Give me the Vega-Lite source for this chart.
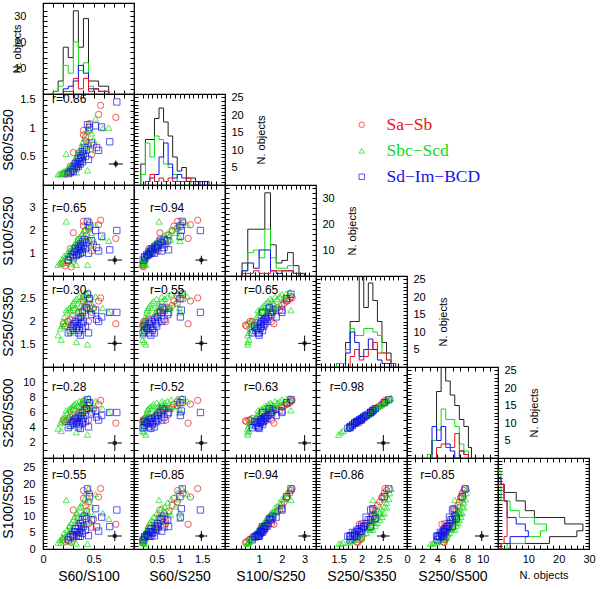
{
"$schema":"https://vega.github.io/schema/vega-lite/v6.json",
"padding":{"left":0,"top":1,"right":2,"bottom":2},
"columns":6,"spacing":0,"bounds":"flush",
"datasets":{
"gal":[
{"t":"Sa-Sb","a":0.2,"p":0.2,"b":0.55,"c":1.95,"d":5.0,"q":2.8},
{"t":"Sa-Sb","a":0.22,"p":0.19,"b":0.45,"c":1.9,"d":4.8,"q":2.2},
{"t":"Sa-Sb","a":0.25,"p":0.24,"b":0.7,"c":2.0,"d":5.2,"q":3.6},
{"t":"Sa-Sb","a":0.28,"p":0.21,"b":0.4,"c":1.92,"d":4.9,"q":2.0},
{"t":"Sa-Sb","a":0.3,"p":0.57,"b":1.9,"c":2.25,"d":6.3,"q":12.0},
{"t":"Sa-Sb","a":0.35,"p":0.56,"b":1.6,"c":2.2,"d":6.0,"q":9.6},
{"t":"Sa-Sb","a":0.4,"p":0.88,"b":2.2,"c":2.45,"d":7.1,"q":15.6},
{"t":"Sa-Sb","a":0.42,"p":0.84,"b":2.0,"c":2.35,"d":6.7,"q":13.4},
{"t":"Sa-Sb","a":0.45,"p":0.95,"b":2.1,"c":2.4,"d":6.9,"q":14.5},
{"t":"Sa-Sb","a":0.43,"p":0.77,"b":1.8,"c":2.3,"d":6.5,"q":11.7},
{"t":"Sa-Sb","a":0.38,"p":0.49,"b":1.3,"c":2.1,"d":5.6,"q":7.3},
{"t":"Sa-Sb","a":0.46,"p":1.08,"b":2.35,"c":2.5,"d":7.3,"q":17.2},
{"t":"Sa-Sb","a":0.57,"p":1.4,"b":2.45,"c":2.52,"d":7.6,"q":18.6},
{"t":"Sa-Sb","a":0.72,"p":1.19,"b":1.65,"c":1.95,"d":4.6,"q":7.6},
{"t":"Sa-Sb","a":0.48,"p":0.53,"b":1.1,"c":2.2,"d":6.0,"q":6.6},
{"t":"Sa-Sb","a":0.33,"p":0.31,"b":0.9,"c":1.98,"d":5.1,"q":4.6},
{"t":"Sa-Sb","a":0.5,"p":0.7,"b":1.4,"c":2.3,"d":6.5,"q":9.1},
{"t":"Sa-Sb","a":0.27,"p":0.33,"b":1.2,"c":2.05,"d":5.4,"q":6.5},
{"t":"Sa-Sb","a":0.55,"p":1.24,"b":2.25,"c":2.45,"d":7.1,"q":16.0},
{"t":"Sa-Sb","a":0.45,"p":0.7,"b":1.55,"c":2.0,"d":5.0,"q":7.8},
{"t":"Sa-Sb","a":0.24,"p":0.22,"b":0.6,"c":2.0,"d":5.0,"q":3.0},
{"t":"Sa-Sb","a":0.4,"p":0.96,"b":2.4,"c":2.55,"d":7.5,"q":18.0},
{"t":"Sbc-Scd","a":0.15,"p":0.19,"b":0.5,"c":1.7,"d":3.9,"q":2.0},
{"t":"Sbc-Scd","a":0.17,"p":0.2,"b":0.6,"c":1.85,"d":4.6,"q":2.8},
{"t":"Sbc-Scd","a":0.18,"p":0.19,"b":0.55,"c":1.6,"d":3.6,"q":2.0},
{"t":"Sbc-Scd","a":0.19,"p":0.22,"b":0.75,"c":1.9,"d":4.8,"q":3.6},
{"t":"Sbc-Scd","a":0.2,"p":0.21,"b":0.65,"c":2.0,"d":5.2,"q":3.4},
{"t":"Sbc-Scd","a":0.21,"p":0.25,"b":0.9,"c":2.1,"d":5.6,"q":5.0},
{"t":"Sbc-Scd","a":0.22,"p":0.23,"b":0.8,"c":1.95,"d":5.0,"q":4.0},
{"t":"Sbc-Scd","a":0.23,"p":0.55,"b":2.4,"c":2.25,"d":6.3,"q":15.1},
{"t":"Sbc-Scd","a":0.24,"p":0.28,"b":1.0,"c":2.2,"d":5.9,"q":5.9},
{"t":"Sbc-Scd","a":0.25,"p":0.26,"b":0.85,"c":2.05,"d":5.4,"q":4.6},
{"t":"Sbc-Scd","a":0.26,"p":0.31,"b":1.1,"c":2.3,"d":6.5,"q":7.2},
{"t":"Sbc-Scd","a":0.27,"p":0.29,"b":0.95,"c":2.25,"d":6.3,"q":6.0},
{"t":"Sbc-Scd","a":0.28,"p":0.35,"b":1.2,"c":2.35,"d":6.7,"q":8.0},
{"t":"Sbc-Scd","a":0.29,"p":0.32,"b":1.05,"c":2.15,"d":5.8,"q":6.1},
{"t":"Sbc-Scd","a":0.3,"p":0.39,"b":1.3,"c":2.4,"d":6.9,"q":9.0},
{"t":"Sbc-Scd","a":0.3,"p":0.25,"b":0.7,"c":1.8,"d":4.4,"q":3.1},
{"t":"Sbc-Scd","a":0.31,"p":0.43,"b":1.4,"c":2.45,"d":7.1,"q":9.9},
{"t":"Sbc-Scd","a":0.32,"p":0.4,"b":1.25,"c":2.3,"d":6.5,"q":8.1},
{"t":"Sbc-Scd","a":0.33,"p":0.5,"b":1.5,"c":2.5,"d":7.3,"q":11.0},
{"t":"Sbc-Scd","a":0.33,"p":0.22,"b":0.5,"c":1.55,"d":3.4,"q":1.7},
{"t":"Sbc-Scd","a":0.34,"p":0.54,"b":1.6,"c":2.4,"d":6.9,"q":11.0},
{"t":"Sbc-Scd","a":0.35,"p":0.47,"b":1.35,"c":2.2,"d":6.0,"q":8.1},
{"t":"Sbc-Scd","a":0.36,"p":0.61,"b":1.7,"c":2.55,"d":7.5,"q":12.8},
{"t":"Sbc-Scd","a":0.37,"p":0.54,"b":1.45,"c":2.35,"d":6.7,"q":9.7},
{"t":"Sbc-Scd","a":0.38,"p":0.68,"b":1.8,"c":2.5,"d":7.3,"q":13.1},
{"t":"Sbc-Scd","a":0.38,"p":0.44,"b":1.15,"c":2.1,"d":5.6,"q":6.4},
{"t":"Sbc-Scd","a":0.39,"p":0.74,"b":1.9,"c":2.55,"d":7.5,"q":14.3},
{"t":"Sbc-Scd","a":0.4,"p":0.62,"b":1.55,"c":2.45,"d":7.1,"q":11.0},
{"t":"Sbc-Scd","a":0.41,"p":0.82,"b":2.0,"c":2.6,"d":7.7,"q":15.4},
{"t":"Sbc-Scd","a":0.42,"p":0.69,"b":1.65,"c":2.4,"d":6.9,"q":11.4},
{"t":"Sbc-Scd","a":0.43,"p":0.95,"b":2.2,"c":2.62,"d":7.8,"q":17.2},
{"t":"Sbc-Scd","a":0.44,"p":0.77,"b":1.75,"c":2.3,"d":6.5,"q":11.4},
{"t":"Sbc-Scd","a":0.45,"p":1.06,"b":2.35,"c":2.65,"d":7.9,"q":18.6},
{"t":"Sbc-Scd","a":0.46,"p":0.97,"b":2.1,"c":2.5,"d":7.3,"q":15.3},
{"t":"Sbc-Scd","a":0.47,"p":0.63,"b":1.35,"c":2.25,"d":6.3,"q":8.5},
{"t":"Sbc-Scd","a":0.48,"p":0.91,"b":1.9,"c":2.4,"d":6.9,"q":13.1},
{"t":"Sbc-Scd","a":0.5,"p":0.8,"b":1.6,"c":2.3,"d":6.5,"q":10.4},
{"t":"Sbc-Scd","a":0.52,"p":1.17,"b":2.25,"c":2.55,"d":7.5,"q":16.9},
{"t":"Sbc-Scd","a":0.59,"p":1.0,"b":1.7,"c":2.3,"d":6.5,"q":11.1},
{"t":"Sbc-Scd","a":0.65,"p":1.01,"b":1.55,"c":2.2,"d":6.0,"q":9.3},
{"t":"Sbc-Scd","a":0.27,"p":0.21,"b":0.55,"c":1.75,"d":4.2,"q":2.3},
{"t":"Sbc-Scd","a":0.35,"p":0.35,"b":1.0,"c":2.0,"d":5.2,"q":5.2},
{"t":"Sbc-Scd","a":0.4,"p":0.5,"b":1.25,"c":2.15,"d":5.8,"q":7.3},
{"t":"Sbc-Scd","a":0.44,"p":0.26,"b":0.5,"c":1.5,"d":3.1,"q":1.6},
{"t":"Sd-Im-BCD","a":0.25,"p":0.2,"b":0.7,"c":1.75,"d":4.0,"q":2.8},
{"t":"Sd-Im-BCD","a":0.27,"p":0.23,"b":0.85,"c":1.8,"d":4.3,"q":3.7},
{"t":"Sd-Im-BCD","a":0.29,"p":0.28,"b":0.95,"c":1.85,"d":4.6,"q":4.4},
{"t":"Sd-Im-BCD","a":0.3,"p":0.24,"b":0.8,"c":1.9,"d":4.8,"q":3.8},
{"t":"Sd-Im-BCD","a":0.31,"p":0.33,"b":1.05,"c":1.95,"d":5.0,"q":5.3},
{"t":"Sd-Im-BCD","a":0.32,"p":0.38,"b":1.2,"c":2.0,"d":5.2,"q":6.2},
{"t":"Sd-Im-BCD","a":0.33,"p":0.3,"b":0.9,"c":1.85,"d":4.6,"q":4.1},
{"t":"Sd-Im-BCD","a":0.34,"p":0.37,"b":1.1,"c":1.9,"d":4.8,"q":5.3},
{"t":"Sd-Im-BCD","a":0.35,"p":0.46,"b":1.3,"c":2.05,"d":5.4,"q":7.0},
{"t":"Sd-Im-BCD","a":0.35,"p":0.33,"b":0.95,"c":1.75,"d":4.1,"q":3.9},
{"t":"Sd-Im-BCD","a":0.36,"p":0.41,"b":1.15,"c":1.8,"d":4.4,"q":5.1},
{"t":"Sd-Im-BCD","a":0.37,"p":0.52,"b":1.4,"c":2.1,"d":5.6,"q":7.8},
{"t":"Sd-Im-BCD","a":0.37,"p":0.37,"b":1.0,"c":1.7,"d":3.9,"q":3.9},
{"t":"Sd-Im-BCD","a":0.38,"p":0.48,"b":1.25,"c":1.95,"d":5.0,"q":6.3},
{"t":"Sd-Im-BCD","a":0.39,"p":0.59,"b":1.5,"c":2.2,"d":6.0,"q":9.0},
{"t":"Sd-Im-BCD","a":0.39,"p":0.41,"b":1.05,"c":1.85,"d":4.6,"q":4.8},
{"t":"Sd-Im-BCD","a":0.4,"p":0.54,"b":1.35,"c":2.0,"d":5.2,"q":7.0},
{"t":"Sd-Im-BCD","a":0.41,"p":0.66,"b":1.6,"c":2.25,"d":6.3,"q":10.1},
{"t":"Sd-Im-BCD","a":0.42,"p":0.5,"b":1.2,"c":1.9,"d":4.8,"q":5.8},
{"t":"Sd-Im-BCD","a":0.43,"p":0.62,"b":1.45,"c":2.3,"d":6.5,"q":9.4},
{"t":"Sd-Im-BCD","a":0.44,"p":1.06,"b":2.4,"c":2.6,"d":7.7,"q":18.5},
{"t":"Sd-Im-BCD","a":0.45,"p":0.45,"b":1.0,"c":1.75,"d":4.1,"q":4.1},
{"t":"Sd-Im-BCD","a":0.46,"p":1.01,"b":2.2,"c":2.5,"d":7.3,"q":16.1},
{"t":"Sd-Im-BCD","a":0.48,"p":0.74,"b":1.55,"c":2.15,"d":5.8,"q":9.0},
{"t":"Sd-Im-BCD","a":0.52,"p":1.04,"b":2.0,"c":2.25,"d":6.2,"q":12.4},
{"t":"Sd-Im-BCD","a":0.55,"p":0.61,"b":1.1,"c":2.0,"d":5.0,"q":5.5},
{"t":"Sd-Im-BCD","a":0.58,"p":1.02,"b":1.75,"c":2.1,"d":5.6,"q":9.8},
{"t":"Sd-Im-BCD","a":0.66,"p":0.76,"b":1.15,"c":2.2,"d":6.0,"q":6.9},
{"t":"Sd-Im-BCD","a":0.53,"p":0.66,"b":1.25,"c":2.05,"d":5.4,"q":6.8},
{"t":"Sd-Im-BCD","a":0.73,"p":1.46,"b":2.0,"c":2.2,"d":6.0,"q":12.0}
],
"h1":[
{"g":"Total","x":0.1,"n":0},{"g":"Total","x":0.1,"n":1},{"g":"Total","x":0.15,"n":5},{"g":"Total","x":0.2,"n":18},{"g":"Total","x":0.25,"n":14},{"g":"Total","x":0.3,"n":32},{"g":"Total","x":0.35,"n":18},{"g":"Total","x":0.4,"n":29},{"g":"Total","x":0.45,"n":5},{"g":"Total","x":0.5,"n":5},{"g":"Total","x":0.55,"n":3},{"g":"Total","x":0.6,"n":3},{"g":"Total","x":0.65,"n":0},
{"g":"Sbc-Scd","x":0.1,"n":0},{"g":"Sbc-Scd","x":0.1,"n":1},{"g":"Sbc-Scd","x":0.15,"n":3},{"g":"Sbc-Scd","x":0.2,"n":11},{"g":"Sbc-Scd","x":0.25,"n":8},{"g":"Sbc-Scd","x":0.3,"n":20},{"g":"Sbc-Scd","x":0.35,"n":9},{"g":"Sbc-Scd","x":0.4,"n":12},{"g":"Sbc-Scd","x":0.45,"n":3},{"g":"Sbc-Scd","x":0.5,"n":2},{"g":"Sbc-Scd","x":0.55,"n":1},{"g":"Sbc-Scd","x":0.6,"n":1},{"g":"Sbc-Scd","x":0.65,"n":0},
{"g":"Sd-Im-BCD","x":0.2,"n":0},{"g":"Sd-Im-BCD","x":0.2,"n":2},{"g":"Sd-Im-BCD","x":0.25,"n":3},{"g":"Sd-Im-BCD","x":0.3,"n":5},{"g":"Sd-Im-BCD","x":0.35,"n":11},{"g":"Sd-Im-BCD","x":0.4,"n":8},{"g":"Sd-Im-BCD","x":0.45,"n":2},{"g":"Sd-Im-BCD","x":0.5,"n":2},{"g":"Sd-Im-BCD","x":0.55,"n":1},{"g":"Sd-Im-BCD","x":0.6,"n":1},{"g":"Sd-Im-BCD","x":0.65,"n":0},
{"g":"Sa-Sb","x":0.2,"n":0},{"g":"Sa-Sb","x":0.2,"n":1},{"g":"Sa-Sb","x":0.25,"n":1},{"g":"Sa-Sb","x":0.3,"n":6},{"g":"Sa-Sb","x":0.35,"n":2},{"g":"Sa-Sb","x":0.4,"n":6},{"g":"Sa-Sb","x":0.45,"n":1},{"g":"Sa-Sb","x":0.5,"n":2},{"g":"Sa-Sb","x":0.55,"n":1},{"g":"Sa-Sb","x":0.6,"n":1},{"g":"Sa-Sb","x":0.65,"n":0}
],
"h2":[
{"g":"Total","x":0.15,"n":0},{"g":"Total","x":0.15,"n":6},{"g":"Total","x":0.25,"n":13},{"g":"Total","x":0.35,"n":13},{"g":"Total","x":0.45,"n":19},{"g":"Total","x":0.55,"n":22},{"g":"Total","x":0.65,"n":18},{"g":"Total","x":0.75,"n":14},{"g":"Total","x":0.85,"n":8},{"g":"Total","x":0.95,"n":4},{"g":"Total","x":1.05,"n":5},{"g":"Total","x":1.15,"n":2},{"g":"Total","x":1.25,"n":2},{"g":"Total","x":1.35,"n":1},{"g":"Total","x":1.45,"n":1},{"g":"Total","x":1.55,"n":1},{"g":"Total","x":1.65,"n":0},
{"g":"Sbc-Scd","x":0.15,"n":0},{"g":"Sbc-Scd","x":0.15,"n":3},{"g":"Sbc-Scd","x":0.25,"n":12},{"g":"Sbc-Scd","x":0.35,"n":8},{"g":"Sbc-Scd","x":0.45,"n":14},{"g":"Sbc-Scd","x":0.55,"n":13},{"g":"Sbc-Scd","x":0.65,"n":6},{"g":"Sbc-Scd","x":0.75,"n":5},{"g":"Sbc-Scd","x":0.85,"n":3},{"g":"Sbc-Scd","x":0.95,"n":1},{"g":"Sbc-Scd","x":1.05,"n":1},{"g":"Sbc-Scd","x":1.15,"n":1},{"g":"Sbc-Scd","x":1.25,"n":0},
{"g":"Sd-Im-BCD","x":0.25,"n":0},{"g":"Sd-Im-BCD","x":0.25,"n":1},{"g":"Sd-Im-BCD","x":0.35,"n":2},{"g":"Sd-Im-BCD","x":0.45,"n":3},{"g":"Sd-Im-BCD","x":0.55,"n":8},{"g":"Sd-Im-BCD","x":0.65,"n":12},{"g":"Sd-Im-BCD","x":0.75,"n":6},{"g":"Sd-Im-BCD","x":0.85,"n":2},{"g":"Sd-Im-BCD","x":0.95,"n":3},{"g":"Sd-Im-BCD","x":1.05,"n":2},{"g":"Sd-Im-BCD","x":1.15,"n":1},{"g":"Sd-Im-BCD","x":1.25,"n":1},{"g":"Sd-Im-BCD","x":1.35,"n":0},{"g":"Sd-Im-BCD","x":1.45,"n":1},{"g":"Sd-Im-BCD","x":1.55,"n":0},
{"g":"Sa-Sb","x":0.25,"n":0},{"g":"Sa-Sb","x":0.25,"n":1},{"g":"Sa-Sb","x":0.35,"n":3},{"g":"Sa-Sb","x":0.45,"n":1},{"g":"Sa-Sb","x":0.55,"n":2},{"g":"Sa-Sb","x":0.65,"n":1},{"g":"Sa-Sb","x":0.75,"n":2},{"g":"Sa-Sb","x":0.85,"n":1},{"g":"Sa-Sb","x":0.95,"n":1},{"g":"Sa-Sb","x":1.05,"n":1},{"g":"Sa-Sb","x":1.15,"n":2},{"g":"Sa-Sb","x":1.25,"n":1},{"g":"Sa-Sb","x":1.35,"n":0}
],
"h3":[
{"g":"Total","x":0.25,"n":0},{"g":"Total","x":0.25,"n":5},{"g":"Total","x":0.5,"n":18},{"g":"Total","x":0.75,"n":18},{"g":"Total","x":1.0,"n":18},{"g":"Total","x":1.25,"n":32},{"g":"Total","x":1.5,"n":12},{"g":"Total","x":1.75,"n":5},{"g":"Total","x":2.0,"n":6},{"g":"Total","x":2.25,"n":9},{"g":"Total","x":2.5,"n":4},{"g":"Total","x":2.75,"n":1},{"g":"Total","x":3.0,"n":0},
{"g":"Sbc-Scd","x":0.25,"n":0},{"g":"Sbc-Scd","x":0.25,"n":2},{"g":"Sbc-Scd","x":0.5,"n":9},{"g":"Sbc-Scd","x":0.75,"n":10},{"g":"Sbc-Scd","x":1.0,"n":7},{"g":"Sbc-Scd","x":1.25,"n":18},{"g":"Sbc-Scd","x":1.5,"n":7},{"g":"Sbc-Scd","x":1.75,"n":3},{"g":"Sbc-Scd","x":2.0,"n":3},{"g":"Sbc-Scd","x":2.25,"n":4},{"g":"Sbc-Scd","x":2.5,"n":1},{"g":"Sbc-Scd","x":2.75,"n":0},
{"g":"Sd-Im-BCD","x":0.25,"n":0},{"g":"Sd-Im-BCD","x":0.25,"n":2},{"g":"Sd-Im-BCD","x":0.5,"n":5},{"g":"Sd-Im-BCD","x":0.75,"n":3},{"g":"Sd-Im-BCD","x":1.0,"n":10},{"g":"Sd-Im-BCD","x":1.25,"n":10},{"g":"Sd-Im-BCD","x":1.5,"n":2},{"g":"Sd-Im-BCD","x":1.75,"n":1},{"g":"Sd-Im-BCD","x":2.0,"n":2},{"g":"Sd-Im-BCD","x":2.25,"n":2},{"g":"Sd-Im-BCD","x":2.5,"n":1},{"g":"Sd-Im-BCD","x":2.75,"n":0},
{"g":"Sa-Sb","x":0.25,"n":0},{"g":"Sa-Sb","x":0.25,"n":1},{"g":"Sa-Sb","x":0.5,"n":1},{"g":"Sa-Sb","x":0.75,"n":2},{"g":"Sa-Sb","x":1.0,"n":1},{"g":"Sa-Sb","x":1.25,"n":1},{"g":"Sa-Sb","x":1.5,"n":2},{"g":"Sa-Sb","x":1.75,"n":2},{"g":"Sa-Sb","x":2.0,"n":2},{"g":"Sa-Sb","x":2.25,"n":2},{"g":"Sa-Sb","x":2.5,"n":1},{"g":"Sa-Sb","x":2.75,"n":0}
],
"h4":[
{"g":"Total","x":1.45,"n":0},{"g":"Total","x":1.45,"n":1},{"g":"Total","x":1.55,"n":1},{"g":"Total","x":1.65,"n":7},{"g":"Total","x":1.75,"n":13},{"g":"Total","x":1.85,"n":13},{"g":"Total","x":1.95,"n":30},{"g":"Total","x":2.05,"n":17},{"g":"Total","x":2.15,"n":24},{"g":"Total","x":2.25,"n":19},{"g":"Total","x":2.35,"n":13},{"g":"Total","x":2.45,"n":7},{"g":"Total","x":2.55,"n":4},{"g":"Total","x":2.65,"n":1},{"g":"Total","x":2.75,"n":0},
{"g":"Sbc-Scd","x":1.45,"n":0},{"g":"Sbc-Scd","x":1.45,"n":1},{"g":"Sbc-Scd","x":1.55,"n":1},{"g":"Sbc-Scd","x":1.65,"n":5},{"g":"Sbc-Scd","x":1.75,"n":11},{"g":"Sbc-Scd","x":1.85,"n":9},{"g":"Sbc-Scd","x":1.95,"n":9},{"g":"Sbc-Scd","x":2.05,"n":11},{"g":"Sbc-Scd","x":2.15,"n":11},{"g":"Sbc-Scd","x":2.25,"n":10},{"g":"Sbc-Scd","x":2.35,"n":9},{"g":"Sbc-Scd","x":2.45,"n":4},{"g":"Sbc-Scd","x":2.55,"n":2},{"g":"Sbc-Scd","x":2.65,"n":1},{"g":"Sbc-Scd","x":2.75,"n":0},
{"g":"Sd-Im-BCD","x":1.65,"n":0},{"g":"Sd-Im-BCD","x":1.65,"n":4},{"g":"Sd-Im-BCD","x":1.75,"n":10},{"g":"Sd-Im-BCD","x":1.85,"n":7},{"g":"Sd-Im-BCD","x":1.95,"n":3},{"g":"Sd-Im-BCD","x":2.05,"n":5},{"g":"Sd-Im-BCD","x":2.15,"n":8},{"g":"Sd-Im-BCD","x":2.25,"n":5},{"g":"Sd-Im-BCD","x":2.35,"n":2},{"g":"Sd-Im-BCD","x":2.45,"n":1},{"g":"Sd-Im-BCD","x":2.55,"n":1},{"g":"Sd-Im-BCD","x":2.65,"n":0},
{"g":"Sa-Sb","x":1.75,"n":0},{"g":"Sa-Sb","x":1.75,"n":3},{"g":"Sa-Sb","x":1.85,"n":5},{"g":"Sa-Sb","x":1.95,"n":2},{"g":"Sa-Sb","x":2.05,"n":3},{"g":"Sa-Sb","x":2.15,"n":5},{"g":"Sa-Sb","x":2.25,"n":7},{"g":"Sa-Sb","x":2.35,"n":4},{"g":"Sa-Sb","x":2.45,"n":4},{"g":"Sa-Sb","x":2.55,"n":2},{"g":"Sa-Sb","x":2.65,"n":1},{"g":"Sa-Sb","x":2.75,"n":0}
],
"h5":[
{"g":"Total","x":2.7,"n":0},{"g":"Total","x":2.7,"n":1},{"g":"Total","x":3.3,"n":5},{"g":"Total","x":3.9,"n":19},{"g":"Total","x":4.5,"n":30},{"g":"Total","x":5.1,"n":22},{"g":"Total","x":5.7,"n":18},{"g":"Total","x":6.3,"n":15},{"g":"Total","x":6.9,"n":11},{"g":"Total","x":7.5,"n":9},{"g":"Total","x":8.1,"n":3},{"g":"Total","x":8.5,"n":0},
{"g":"Sbc-Scd","x":2.7,"n":0},{"g":"Sbc-Scd","x":2.7,"n":1},{"g":"Sbc-Scd","x":3.3,"n":5},{"g":"Sbc-Scd","x":3.9,"n":8},{"g":"Sbc-Scd","x":4.5,"n":14},{"g":"Sbc-Scd","x":5.1,"n":11},{"g":"Sbc-Scd","x":5.7,"n":11},{"g":"Sbc-Scd","x":6.3,"n":9},{"g":"Sbc-Scd","x":6.9,"n":4},{"g":"Sbc-Scd","x":7.5,"n":2},{"g":"Sbc-Scd","x":8.1,"n":0},
{"g":"Sd-Im-BCD","x":3.3,"n":0},{"g":"Sd-Im-BCD","x":3.3,"n":9},{"g":"Sd-Im-BCD","x":3.9,"n":5},{"g":"Sd-Im-BCD","x":4.5,"n":9},{"g":"Sd-Im-BCD","x":5.1,"n":4},{"g":"Sd-Im-BCD","x":5.7,"n":2},{"g":"Sd-Im-BCD","x":6.3,"n":0},{"g":"Sd-Im-BCD","x":6.9,"n":2},{"g":"Sd-Im-BCD","x":7.5,"n":1},{"g":"Sd-Im-BCD","x":8.1,"n":0},
{"g":"Sa-Sb","x":3.9,"n":0},{"g":"Sa-Sb","x":3.9,"n":3},{"g":"Sa-Sb","x":4.5,"n":4},{"g":"Sa-Sb","x":5.1,"n":3},{"g":"Sa-Sb","x":5.7,"n":3},{"g":"Sa-Sb","x":6.3,"n":7},{"g":"Sa-Sb","x":6.9,"n":2},{"g":"Sa-Sb","x":7.5,"n":1},{"g":"Sa-Sb","x":8.1,"n":0}
],
"h6":[
{"g":"Total","e":0,"n":0},{"g":"Total","e":0,"n":4},{"g":"Total","e":1.7,"n":17},{"g":"Total","e":3.8,"n":26},{"g":"Total","e":5.6,"n":28},{"g":"Total","e":7.7,"n":22},{"g":"Total","e":9.7,"n":12},{"g":"Total","e":11.8,"n":9},{"g":"Total","e":14.8,"n":6},{"g":"Total","e":17.4,"n":2},{"g":"Total","e":19.9,"n":0},
{"g":"Sbc-Scd","e":0,"n":0},{"g":"Sbc-Scd","e":0,"n":3},{"g":"Sbc-Scd","e":1.7,"n":9},{"g":"Sbc-Scd","e":3.8,"n":14},{"g":"Sbc-Scd","e":5.6,"n":16},{"g":"Sbc-Scd","e":7.7,"n":12},{"g":"Sbc-Scd","e":9.7,"n":7},{"g":"Sbc-Scd","e":11.8,"n":4},{"g":"Sbc-Scd","e":14.8,"n":1},{"g":"Sbc-Scd","e":17.4,"n":1},{"g":"Sbc-Scd","e":19.9,"n":1},{"g":"Sbc-Scd","e":24,"n":0},
{"g":"Sd-Im-BCD","e":0,"n":0},{"g":"Sd-Im-BCD","e":0,"n":1},{"g":"Sd-Im-BCD","e":1.7,"n":4},{"g":"Sd-Im-BCD","e":3.8,"n":10},{"g":"Sd-Im-BCD","e":5.6,"n":9},{"g":"Sd-Im-BCD","e":7.7,"n":6},{"g":"Sd-Im-BCD","e":9.7,"n":3},{"g":"Sd-Im-BCD","e":11.8,"n":3},{"g":"Sd-Im-BCD","e":14.8,"n":2},{"g":"Sd-Im-BCD","e":17.4,"n":2},{"g":"Sd-Im-BCD","e":19.9,"n":1},{"g":"Sd-Im-BCD","e":22,"n":0},
{"g":"Sa-Sb","e":0,"n":0},{"g":"Sa-Sb","e":0,"n":1},{"g":"Sa-Sb","e":1.7,"n":2},{"g":"Sa-Sb","e":3.8,"n":3},{"g":"Sa-Sb","e":5.6,"n":3},{"g":"Sa-Sb","e":7.7,"n":3},{"g":"Sa-Sb","e":9.7,"n":3},{"g":"Sa-Sb","e":11.8,"n":3},{"g":"Sa-Sb","e":14.8,"n":2},{"g":"Sa-Sb","e":17.4,"n":2},{"g":"Sa-Sb","e":19.9,"n":0}
]
},
"concat":[
{"width":91,"height":91,"resolve":{"axis":{"x":"independent","y":"independent"}},"layer":[
 {"data":{"name":"h1"},"mark":{"type":"line","interpolate":"step-after","clip":true},"encoding":{
  "x":{"field":"x","type":"quantitative","scale":{"domain":[0,0.9]},"axis":{"values":[0,0.1,0.2,0.3,0.4,0.5,0.6,0.7,0.8,0.9],"labels":false,"title":null}},
  "y":{"field":"n","type":"quantitative","scale":{"domain":[0,34]},"axis":{"values":[2,4,6,8,10,12,14,16,18,20,22,24,26,28,30,32],"labelExpr":"indexof([10,20,30],datum.value)>=0?''+datum.value:''","title":"N. objects","titleFontSize":11,"labelPadding":21,"minExtent":18,"maxExtent":18}},
  "stroke":{"field":"g","type":"nominal","legend":null}}},
 {"data":{"name":"h1"},"mark":{"type":"point","opacity":0},"encoding":{
  "x":{"field":"x","type":"quantitative","axis":{"orient":"top","values":[0,0.1,0.2,0.3,0.4,0.5,0.6,0.7,0.8,0.9],"labels":false,"title":null}},
  "y":{"field":"n","type":"quantitative","axis":{"orient":"right","values":[2,4,6,8,10,12,14,16,18,20,22,24,26,28,30,32],"labels":false,"title":null}}}}]},
{"width":91,"height":91,"view":{"stroke":null},"data":{"values":[]},"mark":"point"},
{"width":91,"height":91,"view":{"stroke":null},"data":{"values":[]},"mark":"point"},
{"width":91,"height":91,"view":{"stroke":null},"data":{"values":[]},"mark":"point"},
{"width":91,"height":91,"view":{"stroke":null},"data":{"values":[]},"mark":"point"},
{"width":91,"height":91,"view":{"stroke":null},"data":{"values":[]},"mark":"point"},

{"width":91,"height":91,"resolve":{"axis":{"x":"independent","y":"independent"}},"layer":[
 {"data":{"name":"gal"},"mark":{"type":"point","clip":true},"encoding":{
  "x":{"field":"a","type":"quantitative","scale":{"domain":[0,0.9]},"axis":{"values":[0,0.1,0.2,0.3,0.4,0.5,0.6,0.7,0.8,0.9],"labels":false,"title":null}},
  "y":{"field":"p","type":"quantitative","scale":{"domain":[0.17,1.6]},"axis":{"values":[0.2,0.3,0.4,0.5,0.6,0.7,0.8,0.9,1,1.1,1.2,1.3,1.4,1.5],"labelExpr":"indexof([0.5,1,1.5],datum.value)>=0?''+datum.value:''","title":"S60/S250"}},
  "color":{"field":"t","type":"nominal","title":null,"legend":{"orient":"none","legendX":310,"legendY":113,"padding":0,"labelFont":"Liberation Serif","labelFontSize":17.5,"symbolSize":30,"symbolStrokeWidth":1,"rowPadding":7,"labelOffset":16,"labelExpr":"replace(datum.label,regexp('-','g'),'\u2212')","encoding":{"labels":{"fill":{"condition":[{"test":"datum.value==='Sa-Sb'","value":"#ee1111"},{"test":"datum.value==='Sbc-Scd'","value":"#11dd11"}],"value":"#1111ee"}}}}},
  "shape":{"field":"t","type":"nominal","title":null}}},
 {"data":{"values":[{"x":0.72,"y":0.37,"x1":0.65,"x2":0.79,"y1":0.31,"y2":0.43,"tx":0.09,"ty":1.51,"r":"r=0.86"}]},"resolve":{"axis":{"x":"independent","y":"independent"}},"layer":[
  {"mark":"rule","encoding":{"x":{"field":"x1","type":"quantitative","axis":null},"x2":{"field":"x2"},"y":{"field":"y","type":"quantitative","axis":null}}},
  {"mark":"rule","encoding":{"x":{"field":"x","type":"quantitative","axis":null},"y":{"field":"y1","type":"quantitative","axis":null},"y2":{"field":"y2"}}},
  {"mark":{"type":"point","filled":true,"color":"black","size":22},"encoding":{"x":{"field":"x","type":"quantitative","axis":{"orient":"top","values":[0,0.1,0.2,0.3,0.4,0.5,0.6,0.7,0.8,0.9],"labels":false,"title":null}},"y":{"field":"y","type":"quantitative","axis":{"orient":"right","values":[0.2,0.3,0.4,0.5,0.6,0.7,0.8,0.9,1,1.1,1.2,1.3,1.4,1.5],"labels":false,"title":null}}}},
  {"mark":{"type":"text","align":"left","baseline":"middle"},"encoding":{"x":{"field":"tx","type":"quantitative","axis":null},"y":{"field":"ty","type":"quantitative","axis":null},"text":{"field":"r"}}}]}]},
{"width":91,"height":91,"resolve":{"axis":{"x":"independent","y":"independent"}},"layer":[
 {"data":{"name":"h2"},"mark":{"type":"line","interpolate":"step-after","clip":true},"encoding":{
  "x":{"field":"x","type":"quantitative","scale":{"domain":[0.17,1.81]},"axis":{"values":[0.2,0.3,0.4,0.5,0.6,0.7,0.8,0.9,1,1.1,1.2,1.3,1.4,1.5,1.6,1.7,1.8],"labels":false,"title":null}},
  "y":{"field":"n","type":"quantitative","scale":{"domain":[0,25]},"axis":{"orient":"right","values":[1,2,3,4,5,6,7,8,9,10,11,12,13,14,15,16,17,18,19,20,21,22,23,24,25],"labelExpr":"indexof([5,10,15,20,25],datum.value)>=0?''+datum.value:''","title":"N. objects"}},
  "stroke":{"field":"g","type":"nominal","legend":null}}},
 {"data":{"name":"h2"},"mark":{"type":"point","opacity":0},"encoding":{
  "x":{"field":"x","type":"quantitative","axis":{"orient":"top","values":[0.2,0.3,0.4,0.5,0.6,0.7,0.8,0.9,1,1.1,1.2,1.3,1.4,1.5,1.6,1.7,1.8],"labels":false,"title":null}},
  "y":{"field":"n","type":"quantitative","axis":{"orient":"left","values":[1,2,3,4,5,6,7,8,9,10,11,12,13,14,15,16,17,18,19,20,21,22,23,24,25],"labels":false,"title":null}}}}]},
{"width":91,"height":91,"view":{"stroke":null},"data":{"values":[]},"mark":"point"},
{"width":91,"height":91,"view":{"stroke":null},"data":{"values":[]},"mark":"point"},
{"width":91,"height":91,"view":{"stroke":null},"data":{"values":[]},"mark":"point"},
{"width":91,"height":91,"view":{"stroke":null},"data":{"values":[]},"mark":"point"},

{"width":91,"height":91,"resolve":{"axis":{"x":"independent","y":"independent"}},"layer":[
 {"data":{"name":"gal"},"mark":{"type":"point","clip":true},"encoding":{
  "x":{"field":"a","type":"quantitative","scale":{"domain":[0,0.9]},"axis":{"values":[0,0.1,0.2,0.3,0.4,0.5,0.6,0.7,0.8,0.9],"labels":false,"title":null}},
  "y":{"field":"b","type":"quantitative","scale":{"domain":[0.08,3.55]},"axis":{"values":[0.2,0.4,0.6,0.8,1,1.2,1.4,1.6,1.8,2,2.2,2.4,2.6,2.8,3,3.2,3.4],"labelExpr":"indexof([1,2,3],datum.value)>=0?''+datum.value:''","title":"S100/S250"}},
  "color":{"field":"t","type":"nominal","title":null},"shape":{"field":"t","type":"nominal","title":null}}},
 {"data":{"values":[{"x":0.71,"y":0.7,"x1":0.64,"x2":0.78,"y1":0.51,"y2":0.89,"tx":0.09,"ty":2.98,"r":"r=0.65"}]},"resolve":{"axis":{"x":"independent","y":"independent"}},"layer":[
  {"mark":"rule","encoding":{"x":{"field":"x1","type":"quantitative","axis":null},"x2":{"field":"x2"},"y":{"field":"y","type":"quantitative","axis":null}}},
  {"mark":"rule","encoding":{"x":{"field":"x","type":"quantitative","axis":null},"y":{"field":"y1","type":"quantitative","axis":null},"y2":{"field":"y2"}}},
  {"mark":{"type":"point","filled":true,"color":"black","size":22},"encoding":{"x":{"field":"x","type":"quantitative","axis":{"orient":"top","values":[0,0.1,0.2,0.3,0.4,0.5,0.6,0.7,0.8,0.9],"labels":false,"title":null}},"y":{"field":"y","type":"quantitative","axis":{"orient":"right","values":[0.2,0.4,0.6,0.8,1,1.2,1.4,1.6,1.8,2,2.2,2.4,2.6,2.8,3,3.2,3.4],"labels":false,"title":null}}}},
  {"mark":{"type":"text","align":"left","baseline":"middle"},"encoding":{"x":{"field":"tx","type":"quantitative","axis":null},"y":{"field":"ty","type":"quantitative","axis":null},"text":{"field":"r"}}}]}]},
{"width":91,"height":91,"resolve":{"axis":{"x":"independent","y":"independent"}},"layer":[
 {"data":{"name":"gal"},"mark":{"type":"point","clip":true},"encoding":{
  "x":{"field":"p","type":"quantitative","scale":{"domain":[0.17,1.81]},"axis":{"values":[0.2,0.3,0.4,0.5,0.6,0.7,0.8,0.9,1,1.1,1.2,1.3,1.4,1.5,1.6,1.7,1.8],"labels":false,"title":null}},
  "y":{"field":"b","type":"quantitative","scale":{"domain":[0.08,3.55]},"axis":{"values":[0.2,0.4,0.6,0.8,1,1.2,1.4,1.6,1.8,2,2.2,2.4,2.6,2.8,3,3.2,3.4],"labels":false,"title":null}},
  "color":{"field":"t","type":"nominal","title":null},"shape":{"field":"t","type":"nominal","title":null}}},
 {"data":{"values":[{"x":1.48,"y":0.7,"x1":1.35,"x2":1.61,"y1":0.51,"y2":0.89,"tx":0.35,"ty":2.98,"r":"r=0.94"}]},"resolve":{"axis":{"x":"independent","y":"independent"}},"layer":[
  {"mark":"rule","encoding":{"x":{"field":"x1","type":"quantitative","axis":null},"x2":{"field":"x2"},"y":{"field":"y","type":"quantitative","axis":null}}},
  {"mark":"rule","encoding":{"x":{"field":"x","type":"quantitative","axis":null},"y":{"field":"y1","type":"quantitative","axis":null},"y2":{"field":"y2"}}},
  {"mark":{"type":"point","filled":true,"color":"black","size":22},"encoding":{"x":{"field":"x","type":"quantitative","axis":{"orient":"top","values":[0.2,0.3,0.4,0.5,0.6,0.7,0.8,0.9,1,1.1,1.2,1.3,1.4,1.5,1.6,1.7,1.8],"labels":false,"title":null}},"y":{"field":"y","type":"quantitative","axis":{"orient":"right","values":[0.2,0.4,0.6,0.8,1,1.2,1.4,1.6,1.8,2,2.2,2.4,2.6,2.8,3,3.2,3.4],"labels":false,"title":null}}}},
  {"mark":{"type":"text","align":"left","baseline":"middle"},"encoding":{"x":{"field":"tx","type":"quantitative","axis":null},"y":{"field":"ty","type":"quantitative","axis":null},"text":{"field":"r"}}}]}]},
{"width":91,"height":91,"resolve":{"axis":{"x":"independent","y":"independent"}},"layer":[
 {"data":{"name":"h3"},"mark":{"type":"line","interpolate":"step-after","clip":true},"encoding":{
  "x":{"field":"x","type":"quantitative","scale":{"domain":[-0.2,3.4]},"axis":{"values":[0,0.2,0.4,0.6,0.8,1,1.2,1.4,1.6,1.8,2,2.2,2.4,2.6,2.8,3,3.2],"labels":false,"title":null}},
  "y":{"field":"n","type":"quantitative","scale":{"domain":[0,35]},"axis":{"orient":"right","values":[2,4,6,8,10,12,14,16,18,20,22,24,26,28,30,32,34],"labelExpr":"indexof([10,20,30],datum.value)>=0?''+datum.value:''","title":"N. objects"}},
  "stroke":{"field":"g","type":"nominal","legend":null}}},
 {"data":{"name":"h3"},"mark":{"type":"point","opacity":0},"encoding":{
  "x":{"field":"x","type":"quantitative","axis":{"orient":"top","values":[0,0.2,0.4,0.6,0.8,1,1.2,1.4,1.6,1.8,2,2.2,2.4,2.6,2.8,3,3.2],"labels":false,"title":null}},
  "y":{"field":"n","type":"quantitative","axis":{"orient":"left","values":[2,4,6,8,10,12,14,16,18,20,22,24,26,28,30,32,34],"labels":false,"title":null}}}}]},
{"width":91,"height":91,"view":{"stroke":null},"data":{"values":[]},"mark":"point"},
{"width":91,"height":91,"view":{"stroke":null},"data":{"values":[]},"mark":"point"},
{"width":91,"height":91,"view":{"stroke":null},"data":{"values":[]},"mark":"point"},

{"width":91,"height":91,"resolve":{"axis":{"x":"independent","y":"independent"}},"layer":[
 {"data":{"name":"gal"},"mark":{"type":"point","clip":true},"encoding":{
  "x":{"field":"a","type":"quantitative","scale":{"domain":[0,0.9]},"axis":{"values":[0,0.1,0.2,0.3,0.4,0.5,0.6,0.7,0.8,0.9],"labels":false,"title":null}},
  "y":{"field":"c","type":"quantitative","scale":{"domain":[1.17,2.93]},"axis":{"values":[1.2,1.3,1.4,1.5,1.6,1.7,1.8,1.9,2,2.1,2.2,2.3,2.4,2.5,2.6,2.7,2.8,2.9],"labelExpr":"indexof([1.5,2,2.5],datum.value)>=0?''+datum.value:''","title":"S250/S350"}},
  "color":{"field":"t","type":"nominal","title":null},"shape":{"field":"t","type":"nominal","title":null}}},
 {"data":{"values":[{"x":0.71,"y":1.52,"x1":0.64,"x2":0.78,"y1":1.35,"y2":1.69,"tx":0.09,"ty":2.7,"r":"r=0.30"}]},"resolve":{"axis":{"x":"independent","y":"independent"}},"layer":[
  {"mark":"rule","encoding":{"x":{"field":"x1","type":"quantitative","axis":null},"x2":{"field":"x2"},"y":{"field":"y","type":"quantitative","axis":null}}},
  {"mark":"rule","encoding":{"x":{"field":"x","type":"quantitative","axis":null},"y":{"field":"y1","type":"quantitative","axis":null},"y2":{"field":"y2"}}},
  {"mark":{"type":"point","filled":true,"color":"black","size":22},"encoding":{"x":{"field":"x","type":"quantitative","axis":{"orient":"top","values":[0,0.1,0.2,0.3,0.4,0.5,0.6,0.7,0.8,0.9],"labels":false,"title":null}},"y":{"field":"y","type":"quantitative","axis":{"orient":"right","values":[1.2,1.3,1.4,1.5,1.6,1.7,1.8,1.9,2,2.1,2.2,2.3,2.4,2.5,2.6,2.7,2.8,2.9],"labels":false,"title":null}}}},
  {"mark":{"type":"text","align":"left","baseline":"middle"},"encoding":{"x":{"field":"tx","type":"quantitative","axis":null},"y":{"field":"ty","type":"quantitative","axis":null},"text":{"field":"r"}}}]}]},
{"width":91,"height":91,"resolve":{"axis":{"x":"independent","y":"independent"}},"layer":[
 {"data":{"name":"gal"},"mark":{"type":"point","clip":true},"encoding":{
  "x":{"field":"p","type":"quantitative","scale":{"domain":[0.17,1.81]},"axis":{"values":[0.2,0.3,0.4,0.5,0.6,0.7,0.8,0.9,1,1.1,1.2,1.3,1.4,1.5,1.6,1.7,1.8],"labels":false,"title":null}},
  "y":{"field":"c","type":"quantitative","scale":{"domain":[1.17,2.93]},"axis":{"values":[1.2,1.3,1.4,1.5,1.6,1.7,1.8,1.9,2,2.1,2.2,2.3,2.4,2.5,2.6,2.7,2.8,2.9],"labels":false,"title":null}},
  "color":{"field":"t","type":"nominal","title":null},"shape":{"field":"t","type":"nominal","title":null}}},
 {"data":{"values":[{"x":1.48,"y":1.52,"x1":1.35,"x2":1.61,"y1":1.35,"y2":1.69,"tx":0.35,"ty":2.7,"r":"r=0.55"}]},"resolve":{"axis":{"x":"independent","y":"independent"}},"layer":[
  {"mark":"rule","encoding":{"x":{"field":"x1","type":"quantitative","axis":null},"x2":{"field":"x2"},"y":{"field":"y","type":"quantitative","axis":null}}},
  {"mark":"rule","encoding":{"x":{"field":"x","type":"quantitative","axis":null},"y":{"field":"y1","type":"quantitative","axis":null},"y2":{"field":"y2"}}},
  {"mark":{"type":"point","filled":true,"color":"black","size":22},"encoding":{"x":{"field":"x","type":"quantitative","axis":{"orient":"top","values":[0.2,0.3,0.4,0.5,0.6,0.7,0.8,0.9,1,1.1,1.2,1.3,1.4,1.5,1.6,1.7,1.8],"labels":false,"title":null}},"y":{"field":"y","type":"quantitative","axis":{"orient":"right","values":[1.2,1.3,1.4,1.5,1.6,1.7,1.8,1.9,2,2.1,2.2,2.3,2.4,2.5,2.6,2.7,2.8,2.9],"labels":false,"title":null}}}},
  {"mark":{"type":"text","align":"left","baseline":"middle"},"encoding":{"x":{"field":"tx","type":"quantitative","axis":null},"y":{"field":"ty","type":"quantitative","axis":null},"text":{"field":"r"}}}]}]},
{"width":91,"height":91,"resolve":{"axis":{"x":"independent","y":"independent"}},"layer":[
 {"data":{"name":"gal"},"mark":{"type":"point","clip":true},"encoding":{
  "x":{"field":"b","type":"quantitative","scale":{"domain":[-0.2,3.4]},"axis":{"values":[0,0.2,0.4,0.6,0.8,1,1.2,1.4,1.6,1.8,2,2.2,2.4,2.6,2.8,3,3.2],"labels":false,"title":null}},
  "y":{"field":"c","type":"quantitative","scale":{"domain":[1.17,2.93]},"axis":{"values":[1.2,1.3,1.4,1.5,1.6,1.7,1.8,1.9,2,2.1,2.2,2.3,2.4,2.5,2.6,2.7,2.8,2.9],"labels":false,"title":null}},
  "color":{"field":"t","type":"nominal","title":null},"shape":{"field":"t","type":"nominal","title":null}}},
 {"data":{"values":[{"x":3.0,"y":1.52,"x1":2.72,"x2":3.28,"y1":1.35,"y2":1.69,"tx":0.33,"ty":2.7,"r":"r=0.65"}]},"resolve":{"axis":{"x":"independent","y":"independent"}},"layer":[
  {"mark":"rule","encoding":{"x":{"field":"x1","type":"quantitative","axis":null},"x2":{"field":"x2"},"y":{"field":"y","type":"quantitative","axis":null}}},
  {"mark":"rule","encoding":{"x":{"field":"x","type":"quantitative","axis":null},"y":{"field":"y1","type":"quantitative","axis":null},"y2":{"field":"y2"}}},
  {"mark":{"type":"point","filled":true,"color":"black","size":22},"encoding":{"x":{"field":"x","type":"quantitative","axis":{"orient":"top","values":[0,0.2,0.4,0.6,0.8,1,1.2,1.4,1.6,1.8,2,2.2,2.4,2.6,2.8,3,3.2],"labels":false,"title":null}},"y":{"field":"y","type":"quantitative","axis":{"orient":"right","values":[1.2,1.3,1.4,1.5,1.6,1.7,1.8,1.9,2,2.1,2.2,2.3,2.4,2.5,2.6,2.7,2.8,2.9],"labels":false,"title":null}}}},
  {"mark":{"type":"text","align":"left","baseline":"middle"},"encoding":{"x":{"field":"tx","type":"quantitative","axis":null},"y":{"field":"ty","type":"quantitative","axis":null},"text":{"field":"r"}}}]}]},
{"width":91,"height":91,"resolve":{"axis":{"x":"independent","y":"independent"}},"layer":[
 {"data":{"name":"h4"},"mark":{"type":"line","interpolate":"step-after","clip":true},"encoding":{
  "x":{"field":"x","type":"quantitative","scale":{"domain":[1.07,2.9]},"axis":{"values":[1.1,1.2,1.3,1.4,1.5,1.6,1.7,1.8,1.9,2,2.1,2.2,2.3,2.4,2.5,2.6,2.7,2.8],"labels":false,"title":null}},
  "y":{"field":"n","type":"quantitative","scale":{"domain":[0,25]},"axis":{"orient":"right","values":[1,2,3,4,5,6,7,8,9,10,11,12,13,14,15,16,17,18,19,20,21,22,23,24,25],"labelExpr":"indexof([5,10,15,20,25],datum.value)>=0?''+datum.value:''","title":"N. objects"}},
  "stroke":{"field":"g","type":"nominal","legend":null}}},
 {"data":{"name":"h4"},"mark":{"type":"point","opacity":0},"encoding":{
  "x":{"field":"x","type":"quantitative","axis":{"orient":"top","values":[1.1,1.2,1.3,1.4,1.5,1.6,1.7,1.8,1.9,2,2.1,2.2,2.3,2.4,2.5,2.6,2.7,2.8],"labels":false,"title":null}},
  "y":{"field":"n","type":"quantitative","axis":{"orient":"left","values":[1,2,3,4,5,6,7,8,9,10,11,12,13,14,15,16,17,18,19,20,21,22,23,24,25],"labels":false,"title":null}}}}]},
{"width":91,"height":91,"view":{"stroke":null},"data":{"values":[]},"mark":"point"},
{"width":91,"height":91,"view":{"stroke":null},"data":{"values":[]},"mark":"point"},

{"width":91,"height":91,"resolve":{"axis":{"x":"independent","y":"independent"}},"layer":[
 {"data":{"name":"gal"},"mark":{"type":"point","clip":true},"encoding":{
  "x":{"field":"a","type":"quantitative","scale":{"domain":[0,0.9]},"axis":{"values":[0,0.1,0.2,0.3,0.4,0.5,0.6,0.7,0.8,0.9],"labels":false,"title":null}},
  "y":{"field":"d","type":"quantitative","scale":{"domain":[0,12]},"axis":{"values":[1,2,3,4,5,6,7,8,9,10,11],"labelExpr":"indexof([2,4,6,8,10],datum.value)>=0?''+datum.value:''","title":"S250/S500"}},
  "color":{"field":"t","type":"nominal","title":null},"shape":{"field":"t","type":"nominal","title":null}}},
 {"data":{"values":[{"x":0.71,"y":1.98,"x1":0.64,"x2":0.78,"y1":0.93,"y2":3.03,"tx":0.09,"ty":9.36,"r":"r=0.28"}]},"resolve":{"axis":{"x":"independent","y":"independent"}},"layer":[
  {"mark":"rule","encoding":{"x":{"field":"x1","type":"quantitative","axis":null},"x2":{"field":"x2"},"y":{"field":"y","type":"quantitative","axis":null}}},
  {"mark":"rule","encoding":{"x":{"field":"x","type":"quantitative","axis":null},"y":{"field":"y1","type":"quantitative","axis":null},"y2":{"field":"y2"}}},
  {"mark":{"type":"point","filled":true,"color":"black","size":22},"encoding":{"x":{"field":"x","type":"quantitative","axis":{"orient":"top","values":[0,0.1,0.2,0.3,0.4,0.5,0.6,0.7,0.8,0.9],"labels":false,"title":null}},"y":{"field":"y","type":"quantitative","axis":{"orient":"right","values":[1,2,3,4,5,6,7,8,9,10,11],"labels":false,"title":null}}}},
  {"mark":{"type":"text","align":"left","baseline":"middle"},"encoding":{"x":{"field":"tx","type":"quantitative","axis":null},"y":{"field":"ty","type":"quantitative","axis":null},"text":{"field":"r"}}}]}]},
{"width":91,"height":91,"resolve":{"axis":{"x":"independent","y":"independent"}},"layer":[
 {"data":{"name":"gal"},"mark":{"type":"point","clip":true},"encoding":{
  "x":{"field":"p","type":"quantitative","scale":{"domain":[0.17,1.81]},"axis":{"values":[0.2,0.3,0.4,0.5,0.6,0.7,0.8,0.9,1,1.1,1.2,1.3,1.4,1.5,1.6,1.7,1.8],"labels":false,"title":null}},
  "y":{"field":"d","type":"quantitative","scale":{"domain":[0,12]},"axis":{"values":[1,2,3,4,5,6,7,8,9,10,11],"labels":false,"title":null}},
  "color":{"field":"t","type":"nominal","title":null},"shape":{"field":"t","type":"nominal","title":null}}},
 {"data":{"values":[{"x":1.48,"y":1.98,"x1":1.35,"x2":1.61,"y1":0.93,"y2":3.03,"tx":0.35,"ty":9.36,"r":"r=0.52"}]},"resolve":{"axis":{"x":"independent","y":"independent"}},"layer":[
  {"mark":"rule","encoding":{"x":{"field":"x1","type":"quantitative","axis":null},"x2":{"field":"x2"},"y":{"field":"y","type":"quantitative","axis":null}}},
  {"mark":"rule","encoding":{"x":{"field":"x","type":"quantitative","axis":null},"y":{"field":"y1","type":"quantitative","axis":null},"y2":{"field":"y2"}}},
  {"mark":{"type":"point","filled":true,"color":"black","size":22},"encoding":{"x":{"field":"x","type":"quantitative","axis":{"orient":"top","values":[0.2,0.3,0.4,0.5,0.6,0.7,0.8,0.9,1,1.1,1.2,1.3,1.4,1.5,1.6,1.7,1.8],"labels":false,"title":null}},"y":{"field":"y","type":"quantitative","axis":{"orient":"right","values":[1,2,3,4,5,6,7,8,9,10,11],"labels":false,"title":null}}}},
  {"mark":{"type":"text","align":"left","baseline":"middle"},"encoding":{"x":{"field":"tx","type":"quantitative","axis":null},"y":{"field":"ty","type":"quantitative","axis":null},"text":{"field":"r"}}}]}]},
{"width":91,"height":91,"resolve":{"axis":{"x":"independent","y":"independent"}},"layer":[
 {"data":{"name":"gal"},"mark":{"type":"point","clip":true},"encoding":{
  "x":{"field":"b","type":"quantitative","scale":{"domain":[-0.2,3.4]},"axis":{"values":[0,0.2,0.4,0.6,0.8,1,1.2,1.4,1.6,1.8,2,2.2,2.4,2.6,2.8,3,3.2],"labels":false,"title":null}},
  "y":{"field":"d","type":"quantitative","scale":{"domain":[0,12]},"axis":{"values":[1,2,3,4,5,6,7,8,9,10,11],"labels":false,"title":null}},
  "color":{"field":"t","type":"nominal","title":null},"shape":{"field":"t","type":"nominal","title":null}}},
 {"data":{"values":[{"x":3.0,"y":1.98,"x1":2.72,"x2":3.28,"y1":0.93,"y2":3.03,"tx":0.33,"ty":9.36,"r":"r=0.63"}]},"resolve":{"axis":{"x":"independent","y":"independent"}},"layer":[
  {"mark":"rule","encoding":{"x":{"field":"x1","type":"quantitative","axis":null},"x2":{"field":"x2"},"y":{"field":"y","type":"quantitative","axis":null}}},
  {"mark":"rule","encoding":{"x":{"field":"x","type":"quantitative","axis":null},"y":{"field":"y1","type":"quantitative","axis":null},"y2":{"field":"y2"}}},
  {"mark":{"type":"point","filled":true,"color":"black","size":22},"encoding":{"x":{"field":"x","type":"quantitative","axis":{"orient":"top","values":[0,0.2,0.4,0.6,0.8,1,1.2,1.4,1.6,1.8,2,2.2,2.4,2.6,2.8,3,3.2],"labels":false,"title":null}},"y":{"field":"y","type":"quantitative","axis":{"orient":"right","values":[1,2,3,4,5,6,7,8,9,10,11],"labels":false,"title":null}}}},
  {"mark":{"type":"text","align":"left","baseline":"middle"},"encoding":{"x":{"field":"tx","type":"quantitative","axis":null},"y":{"field":"ty","type":"quantitative","axis":null},"text":{"field":"r"}}}]}]},
{"width":91,"height":91,"resolve":{"axis":{"x":"independent","y":"independent"}},"layer":[
 {"data":{"name":"gal"},"mark":{"type":"point","clip":true},"encoding":{
  "x":{"field":"c","type":"quantitative","scale":{"domain":[1.07,2.9]},"axis":{"values":[1.1,1.2,1.3,1.4,1.5,1.6,1.7,1.8,1.9,2,2.1,2.2,2.3,2.4,2.5,2.6,2.7,2.8],"labels":false,"title":null}},
  "y":{"field":"d","type":"quantitative","scale":{"domain":[0,12]},"axis":{"values":[1,2,3,4,5,6,7,8,9,10,11],"labels":false,"title":null}},
  "color":{"field":"t","type":"nominal","title":null},"shape":{"field":"t","type":"nominal","title":null}}},
 {"data":{"values":[{"x":2.48,"y":1.98,"x1":2.34,"x2":2.62,"y1":0.93,"y2":3.03,"tx":1.3,"ty":9.36,"r":"r=0.98"}]},"resolve":{"axis":{"x":"independent","y":"independent"}},"layer":[
  {"mark":"rule","encoding":{"x":{"field":"x1","type":"quantitative","axis":null},"x2":{"field":"x2"},"y":{"field":"y","type":"quantitative","axis":null}}},
  {"mark":"rule","encoding":{"x":{"field":"x","type":"quantitative","axis":null},"y":{"field":"y1","type":"quantitative","axis":null},"y2":{"field":"y2"}}},
  {"mark":{"type":"point","filled":true,"color":"black","size":22},"encoding":{"x":{"field":"x","type":"quantitative","axis":{"orient":"top","values":[1.1,1.2,1.3,1.4,1.5,1.6,1.7,1.8,1.9,2,2.1,2.2,2.3,2.4,2.5,2.6,2.7,2.8],"labels":false,"title":null}},"y":{"field":"y","type":"quantitative","axis":{"orient":"right","values":[1,2,3,4,5,6,7,8,9,10,11],"labels":false,"title":null}}}},
  {"mark":{"type":"text","align":"left","baseline":"middle"},"encoding":{"x":{"field":"tx","type":"quantitative","axis":null},"y":{"field":"ty","type":"quantitative","axis":null},"text":{"field":"r"}}}]}]},
{"width":91,"height":91,"resolve":{"axis":{"x":"independent","y":"independent"}},"layer":[
 {"data":{"name":"h5"},"mark":{"type":"line","interpolate":"step-after","clip":true},"encoding":{
  "x":{"field":"x","type":"quantitative","scale":{"domain":[0,11.8]},"axis":{"values":[0,1,2,3,4,5,6,7,8,9,10,11],"labels":false,"title":null}},
  "y":{"field":"n","type":"quantitative","scale":{"domain":[0,25]},"axis":{"orient":"right","values":[1,2,3,4,5,6,7,8,9,10,11,12,13,14,15,16,17,18,19,20,21,22,23,24,25],"labelExpr":"indexof([5,10,15,20,25],datum.value)>=0?''+datum.value:''","title":"N. objects"}},
  "stroke":{"field":"g","type":"nominal","legend":null}}},
 {"data":{"name":"h5"},"mark":{"type":"point","opacity":0},"encoding":{
  "x":{"field":"x","type":"quantitative","axis":{"orient":"top","values":[0,1,2,3,4,5,6,7,8,9,10,11],"labels":false,"title":null}},
  "y":{"field":"n","type":"quantitative","axis":{"orient":"left","values":[1,2,3,4,5,6,7,8,9,10,11,12,13,14,15,16,17,18,19,20,21,22,23,24,25],"labels":false,"title":null}}}}]},
{"width":91,"height":91,"view":{"stroke":null},"data":{"values":[]},"mark":"point"},

{"width":91,"height":91,"resolve":{"axis":{"x":"independent","y":"independent"}},"layer":[
 {"data":{"name":"gal"},"mark":{"type":"point","clip":true},"encoding":{
  "x":{"field":"a","type":"quantitative","scale":{"domain":[0,0.9]},"axis":{"values":[0,0.1,0.2,0.3,0.4,0.5,0.6,0.7,0.8,0.9],"labelExpr":"indexof([0,0.5],datum.value)>=0?''+datum.value:''","title":"S60/S100"}},
  "y":{"field":"q","type":"quantitative","scale":{"domain":[0,28]},"axis":{"values":[0,1,2,3,4,5,6,7,8,9,10,11,12,13,14,15,16,17,18,19,20,21,22,23,24,25,26,27],"labelExpr":"indexof([0,5,10,15,20,25],datum.value)>=0?''+datum.value:''","title":"S100/S500"}},
  "color":{"field":"t","type":"nominal","title":null},"shape":{"field":"t","type":"nominal","title":null}}},
 {"data":{"values":[{"x":0.71,"y":4.0,"x1":0.64,"x2":0.78,"y1":2.46,"y2":5.54,"tx":0.09,"ty":22.7,"r":"r=0.55"}]},"resolve":{"axis":{"x":"independent","y":"independent"}},"layer":[
  {"mark":"rule","encoding":{"x":{"field":"x1","type":"quantitative","axis":null},"x2":{"field":"x2"},"y":{"field":"y","type":"quantitative","axis":null}}},
  {"mark":"rule","encoding":{"x":{"field":"x","type":"quantitative","axis":null},"y":{"field":"y1","type":"quantitative","axis":null},"y2":{"field":"y2"}}},
  {"mark":{"type":"point","filled":true,"color":"black","size":22},"encoding":{"x":{"field":"x","type":"quantitative","axis":{"orient":"top","values":[0,0.1,0.2,0.3,0.4,0.5,0.6,0.7,0.8,0.9],"labels":false,"title":null}},"y":{"field":"y","type":"quantitative","axis":{"orient":"right","values":[0,1,2,3,4,5,6,7,8,9,10,11,12,13,14,15,16,17,18,19,20,21,22,23,24,25,26,27],"labels":false,"title":null}}}},
  {"mark":{"type":"text","align":"left","baseline":"middle"},"encoding":{"x":{"field":"tx","type":"quantitative","axis":null},"y":{"field":"ty","type":"quantitative","axis":null},"text":{"field":"r"}}}]}]},
{"width":91,"height":91,"resolve":{"axis":{"x":"independent","y":"independent"}},"layer":[
 {"data":{"name":"gal"},"mark":{"type":"point","clip":true},"encoding":{
  "x":{"field":"p","type":"quantitative","scale":{"domain":[0.17,1.81]},"axis":{"values":[0.2,0.3,0.4,0.5,0.6,0.7,0.8,0.9,1,1.1,1.2,1.3,1.4,1.5,1.6,1.7,1.8],"labelExpr":"indexof([0.5,1,1.5],datum.value)>=0?''+datum.value:''","title":"S60/S250"}},
  "y":{"field":"q","type":"quantitative","scale":{"domain":[0,28]},"axis":{"values":[0,1,2,3,4,5,6,7,8,9,10,11,12,13,14,15,16,17,18,19,20,21,22,23,24,25,26,27],"labels":false,"title":null}},
  "color":{"field":"t","type":"nominal","title":null},"shape":{"field":"t","type":"nominal","title":null}}},
 {"data":{"values":[{"x":1.48,"y":4.0,"x1":1.35,"x2":1.61,"y1":2.46,"y2":5.54,"tx":0.35,"ty":22.7,"r":"r=0.85"}]},"resolve":{"axis":{"x":"independent","y":"independent"}},"layer":[
  {"mark":"rule","encoding":{"x":{"field":"x1","type":"quantitative","axis":null},"x2":{"field":"x2"},"y":{"field":"y","type":"quantitative","axis":null}}},
  {"mark":"rule","encoding":{"x":{"field":"x","type":"quantitative","axis":null},"y":{"field":"y1","type":"quantitative","axis":null},"y2":{"field":"y2"}}},
  {"mark":{"type":"point","filled":true,"color":"black","size":22},"encoding":{"x":{"field":"x","type":"quantitative","axis":{"orient":"top","values":[0.2,0.3,0.4,0.5,0.6,0.7,0.8,0.9,1,1.1,1.2,1.3,1.4,1.5,1.6,1.7,1.8],"labels":false,"title":null}},"y":{"field":"y","type":"quantitative","axis":{"orient":"right","values":[0,1,2,3,4,5,6,7,8,9,10,11,12,13,14,15,16,17,18,19,20,21,22,23,24,25,26,27],"labels":false,"title":null}}}},
  {"mark":{"type":"text","align":"left","baseline":"middle"},"encoding":{"x":{"field":"tx","type":"quantitative","axis":null},"y":{"field":"ty","type":"quantitative","axis":null},"text":{"field":"r"}}}]}]},
{"width":91,"height":91,"resolve":{"axis":{"x":"independent","y":"independent"}},"layer":[
 {"data":{"name":"gal"},"mark":{"type":"point","clip":true},"encoding":{
  "x":{"field":"b","type":"quantitative","scale":{"domain":[-0.2,3.4]},"axis":{"values":[0,0.2,0.4,0.6,0.8,1,1.2,1.4,1.6,1.8,2,2.2,2.4,2.6,2.8,3,3.2],"labelExpr":"indexof([1,2,3],datum.value)>=0?''+datum.value:''","title":"S100/S250"}},
  "y":{"field":"q","type":"quantitative","scale":{"domain":[0,28]},"axis":{"values":[0,1,2,3,4,5,6,7,8,9,10,11,12,13,14,15,16,17,18,19,20,21,22,23,24,25,26,27],"labels":false,"title":null}},
  "color":{"field":"t","type":"nominal","title":null},"shape":{"field":"t","type":"nominal","title":null}}},
 {"data":{"values":[{"x":3.0,"y":4.0,"x1":2.72,"x2":3.28,"y1":2.46,"y2":5.54,"tx":0.33,"ty":22.7,"r":"r=0.94"}]},"resolve":{"axis":{"x":"independent","y":"independent"}},"layer":[
  {"mark":"rule","encoding":{"x":{"field":"x1","type":"quantitative","axis":null},"x2":{"field":"x2"},"y":{"field":"y","type":"quantitative","axis":null}}},
  {"mark":"rule","encoding":{"x":{"field":"x","type":"quantitative","axis":null},"y":{"field":"y1","type":"quantitative","axis":null},"y2":{"field":"y2"}}},
  {"mark":{"type":"point","filled":true,"color":"black","size":22},"encoding":{"x":{"field":"x","type":"quantitative","axis":{"orient":"top","values":[0,0.2,0.4,0.6,0.8,1,1.2,1.4,1.6,1.8,2,2.2,2.4,2.6,2.8,3,3.2],"labels":false,"title":null}},"y":{"field":"y","type":"quantitative","axis":{"orient":"right","values":[0,1,2,3,4,5,6,7,8,9,10,11,12,13,14,15,16,17,18,19,20,21,22,23,24,25,26,27],"labels":false,"title":null}}}},
  {"mark":{"type":"text","align":"left","baseline":"middle"},"encoding":{"x":{"field":"tx","type":"quantitative","axis":null},"y":{"field":"ty","type":"quantitative","axis":null},"text":{"field":"r"}}}]}]},
{"width":91,"height":91,"resolve":{"axis":{"x":"independent","y":"independent"}},"layer":[
 {"data":{"name":"gal"},"mark":{"type":"point","clip":true},"encoding":{
  "x":{"field":"c","type":"quantitative","scale":{"domain":[1.07,2.9]},"axis":{"values":[1.1,1.2,1.3,1.4,1.5,1.6,1.7,1.8,1.9,2,2.1,2.2,2.3,2.4,2.5,2.6,2.7,2.8],"labelExpr":"indexof([1.5,2,2.5],datum.value)>=0?''+datum.value:''","title":"S250/S350"}},
  "y":{"field":"q","type":"quantitative","scale":{"domain":[0,28]},"axis":{"values":[0,1,2,3,4,5,6,7,8,9,10,11,12,13,14,15,16,17,18,19,20,21,22,23,24,25,26,27],"labels":false,"title":null}},
  "color":{"field":"t","type":"nominal","title":null},"shape":{"field":"t","type":"nominal","title":null}}},
 {"data":{"values":[{"x":2.48,"y":4.0,"x1":2.34,"x2":2.62,"y1":2.46,"y2":5.54,"tx":1.3,"ty":22.7,"r":"r=0.86"}]},"resolve":{"axis":{"x":"independent","y":"independent"}},"layer":[
  {"mark":"rule","encoding":{"x":{"field":"x1","type":"quantitative","axis":null},"x2":{"field":"x2"},"y":{"field":"y","type":"quantitative","axis":null}}},
  {"mark":"rule","encoding":{"x":{"field":"x","type":"quantitative","axis":null},"y":{"field":"y1","type":"quantitative","axis":null},"y2":{"field":"y2"}}},
  {"mark":{"type":"point","filled":true,"color":"black","size":22},"encoding":{"x":{"field":"x","type":"quantitative","axis":{"orient":"top","values":[1.1,1.2,1.3,1.4,1.5,1.6,1.7,1.8,1.9,2,2.1,2.2,2.3,2.4,2.5,2.6,2.7,2.8],"labels":false,"title":null}},"y":{"field":"y","type":"quantitative","axis":{"orient":"right","values":[0,1,2,3,4,5,6,7,8,9,10,11,12,13,14,15,16,17,18,19,20,21,22,23,24,25,26,27],"labels":false,"title":null}}}},
  {"mark":{"type":"text","align":"left","baseline":"middle"},"encoding":{"x":{"field":"tx","type":"quantitative","axis":null},"y":{"field":"ty","type":"quantitative","axis":null},"text":{"field":"r"}}}]}]},
{"width":91,"height":91,"resolve":{"axis":{"x":"independent","y":"independent"}},"layer":[
 {"data":{"name":"gal"},"mark":{"type":"point","clip":true},"encoding":{
  "x":{"field":"d","type":"quantitative","scale":{"domain":[0,11.8]},"axis":{"values":[0,1,2,3,4,5,6,7,8,9,10,11],"labelExpr":"indexof([0,2,4,6,8,10],datum.value)>=0?''+datum.value:''","title":"S250/S500"}},
  "y":{"field":"q","type":"quantitative","scale":{"domain":[0,28]},"axis":{"values":[0,1,2,3,4,5,6,7,8,9,10,11,12,13,14,15,16,17,18,19,20,21,22,23,24,25,26,27],"labels":false,"title":null}},
  "color":{"field":"t","type":"nominal","title":null},"shape":{"field":"t","type":"nominal","title":null}}},
 {"data":{"values":[{"x":9.85,"y":4.0,"x1":8.94,"x2":10.76,"y1":2.46,"y2":5.54,"tx":1.75,"ty":22.7,"r":"r=0.85"}]},"resolve":{"axis":{"x":"independent","y":"independent"}},"layer":[
  {"mark":"rule","encoding":{"x":{"field":"x1","type":"quantitative","axis":null},"x2":{"field":"x2"},"y":{"field":"y","type":"quantitative","axis":null}}},
  {"mark":"rule","encoding":{"x":{"field":"x","type":"quantitative","axis":null},"y":{"field":"y1","type":"quantitative","axis":null},"y2":{"field":"y2"}}},
  {"mark":{"type":"point","filled":true,"color":"black","size":22},"encoding":{"x":{"field":"x","type":"quantitative","axis":{"orient":"top","values":[0,1,2,3,4,5,6,7,8,9,10,11],"labels":false,"title":null}},"y":{"field":"y","type":"quantitative","axis":{"orient":"right","values":[0,1,2,3,4,5,6,7,8,9,10,11,12,13,14,15,16,17,18,19,20,21,22,23,24,25,26,27],"labels":false,"title":null}}}},
  {"mark":{"type":"text","align":"left","baseline":"middle"},"encoding":{"x":{"field":"tx","type":"quantitative","axis":null},"y":{"field":"ty","type":"quantitative","axis":null},"text":{"field":"r"}}}]}]},
{"width":91,"height":91,"resolve":{"axis":{"x":"independent","y":"independent"}},"layer":[
 {"data":{"name":"h6"},"mark":{"type":"line","interpolate":"step-before","clip":true},"encoding":{
  "x":{"field":"n","type":"quantitative","scale":{"domain":[0,30]},"axis":{"values":[0,2,4,6,8,10,12,14,16,18,20,22,24,26,28,30],"labelExpr":"indexof([10,20,30],datum.value)>=0?''+datum.value:''","title":"N. objects","titleFontSize":11}},
  "y":{"field":"e","type":"quantitative","scale":{"domain":[0,28]},"axis":{"values":[0,1,2,3,4,5,6,7,8,9,10,11,12,13,14,15,16,17,18,19,20,21,22,23,24,25,26,27],"labels":false,"title":null}},
  "order":{"field":"e","type":"quantitative"},
  "stroke":{"field":"g","type":"nominal","legend":null}}},
 {"data":{"name":"h6"},"mark":{"type":"point","opacity":0},"encoding":{
  "x":{"field":"n","type":"quantitative","axis":{"orient":"top","values":[0,2,4,6,8,10,12,14,16,18,20,22,24,26,28,30],"labels":false,"title":null}},
  "y":{"field":"e","type":"quantitative","axis":{"orient":"right","values":[0,1,2,3,4,5,6,7,8,9,10,11,12,13,14,15,16,17,18,19,20,21,22,23,24,25,26,27],"labels":false,"title":null}}}}]}
],
"config":{
 "font":"Liberation Sans",
 "view":{"stroke":"black","strokeWidth":1.2},
 "axis":{"grid":false,"domain":false,"tickSize":-4,"tickColor":"black","tickWidth":1,"labelFont":"Liberation Sans","labelFontSize":11,"labelColor":"black","labelOverlap":false,"labelFlush":false,"titleFont":"Liberation Sans","titleFontSize":14,"titleFontWeight":"normal","titleColor":"black"},
 "axisBottom":{"labelPadding":8,"minExtent":16,"maxExtent":16,"titlePadding":4},
 "axisLeft":{"labelPadding":12,"minExtent":25,"maxExtent":25,"titlePadding":3},
 "axisRight":{"labelPadding":10,"minExtent":27,"maxExtent":27,"titlePadding":3,"titleAngle":270,"titleBaseline":"top","titleFontSize":11},
 "point":{"filled":false,"size":40,"strokeWidth":1},
 "line":{"strokeWidth":1},
 "rule":{"color":"black"},
 "text":{"font":"Liberation Sans","fontSize":12,"color":"black"},
 "range":{"category":["#ee1111","#11dd11","#1111ee","#222222"],"symbol":["circle","triangle-up","square"]}
}
}
